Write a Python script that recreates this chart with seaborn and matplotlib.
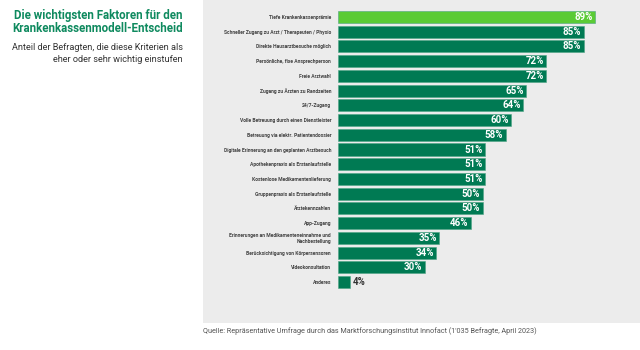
import pandas as pd
import numpy as np
import matplotlib.pyplot as plt
import matplotlib.patches as mpatches
import seaborn as sns

# Data
factors = [
    'Tiefe Krankenkassenprämie',
    'Schneller Zugang zu Arzt / Therapeuten / Physio',
    'Direkte Hausarztbesuche möglich',
    'Persönliche, fixe Ansprechperson',
    'Freie Arztwahl',
    'Zugang zu Ärzten zu Randzeiten',
    '24/7-Zugang',
    'Volle Betreuung durch einen Dienstleister',
    'Betreuung via elektr. Patientendossier',
    'Digitale Erinnerung an den geplanten Arztbesuch',
    'Apothekenpraxis als Erstanlaufstelle',
    'Kostenlose Medikamentenlieferung',
    'Gruppenpraxis als Erstanlaufstelle',
    'Ärztekennzahlen',
    'App-Zugang',
    'Erinnerungen an Medikamenteneinnahme und\nNachbestellung',
    'Berücksichtigung von Körpersensoren',
    'Videokonsultation',
    'Anderes',
]
shares = [89, 85, 85, 72, 72, 65, 64, 60, 58, 51, 51, 51, 50, 50, 46, 35, 34, 30, 4]
highlight = ['top'] + ['rest'] * (len(factors) - 1)

df = pd.DataFrame({'Faktor': factors, 'Anteil': shares, 'Gruppe': highlight})

dark_green = '#007a53'
light_green = '#5acb35'
title_green = '#0f8a5f'
panel_grey = '#ececec'

sns.set_theme(style='white')
plt.rcParams['font.family'] = ['Roboto', 'DejaVu Sans']

fig = plt.figure(figsize=(6.4, 3.5), dpi=100)
fig.patch.set_facecolor('white')

# grey panel behind the chart
panel = mpatches.Rectangle((203 / 640, 27 / 350), 1 - 203 / 640, 1 - 27 / 350,
                           transform=fig.transFigure, facecolor=panel_grey,
                           edgecolor='none', zorder=-5)
fig.patches.append(panel)

ax = fig.add_axes([338 / 640, 1 - 289.4 / 350, 289 / 640, (289.4 - 9.6) / 350])
ax.set_facecolor('none')
ax.set_zorder(2)

sns.barplot(data=df, x='Anteil', y='Faktor', hue='Gruppe',
            palette={'top': light_green, 'rest': dark_green}, saturation=1,
            dodge=False, legend=False, width=0.82, orient='h',
            edgecolor='#4fa585', linewidth=0.4, ax=ax)

ax.set_xlim(0, 100)
ax.set_ylim(len(factors) - 0.5, -0.5)
ax.set_xlabel('')
ax.set_ylabel('')
ax.set_xticks([])
ax.tick_params(axis='y', length=0, pad=5)
for lab in ax.get_yticklabels():
    lab.set_fontsize(3.6)
    lab.set_fontweight('semibold')
    lab.set_color('#444444')
    lab.set_horizontalalignment('right')
    lab.set_multialignment('right')
for s in ax.spines.values():
    s.set_visible(False)

# value labels
for i, v in enumerate(shares):
    if v >= 10:
        ax.text(v - 0.8, i, f'{v}%', ha='right', va='center', color='white',
                fontsize=7, fontweight='bold')
    else:
        ax.text(v + 1.2, i, f'{v}%', ha='left', va='center', color='#333333',
                fontsize=7, fontweight='bold')

# titles
fig.text(183 / 640, 1 - 15 / 350, 'Die wichtigsten Faktoren für den',
         ha='right', va='center', fontsize=8.3, fontweight='bold', color=title_green)
fig.text(183 / 640, 1 - 29 / 350, 'Krankenkassenmodell-Entscheid',
         ha='right', va='center', fontsize=8.3, fontweight='bold', color=title_green)
fig.text(183 / 640, 1 - 47 / 350, 'Anteil der Befragten, die diese Kriterien als',
         ha='right', va='center', fontsize=6.6, color='#333333')
fig.text(183 / 640, 1 - 60 / 350, 'eher oder sehr wichtig einstufen',
         ha='right', va='center', fontsize=6.6, color='#333333')

fig.text(203 / 640, 1 - 331 / 350,
         "Quelle: Repräsentative Umfrage durch das Marktforschungsinstitut Innofact (1'035 Befragte, April 2023)",
         ha='left', va='center', fontsize=5.2, color='#555555')

fig.savefig('out.png', dpi=100)
